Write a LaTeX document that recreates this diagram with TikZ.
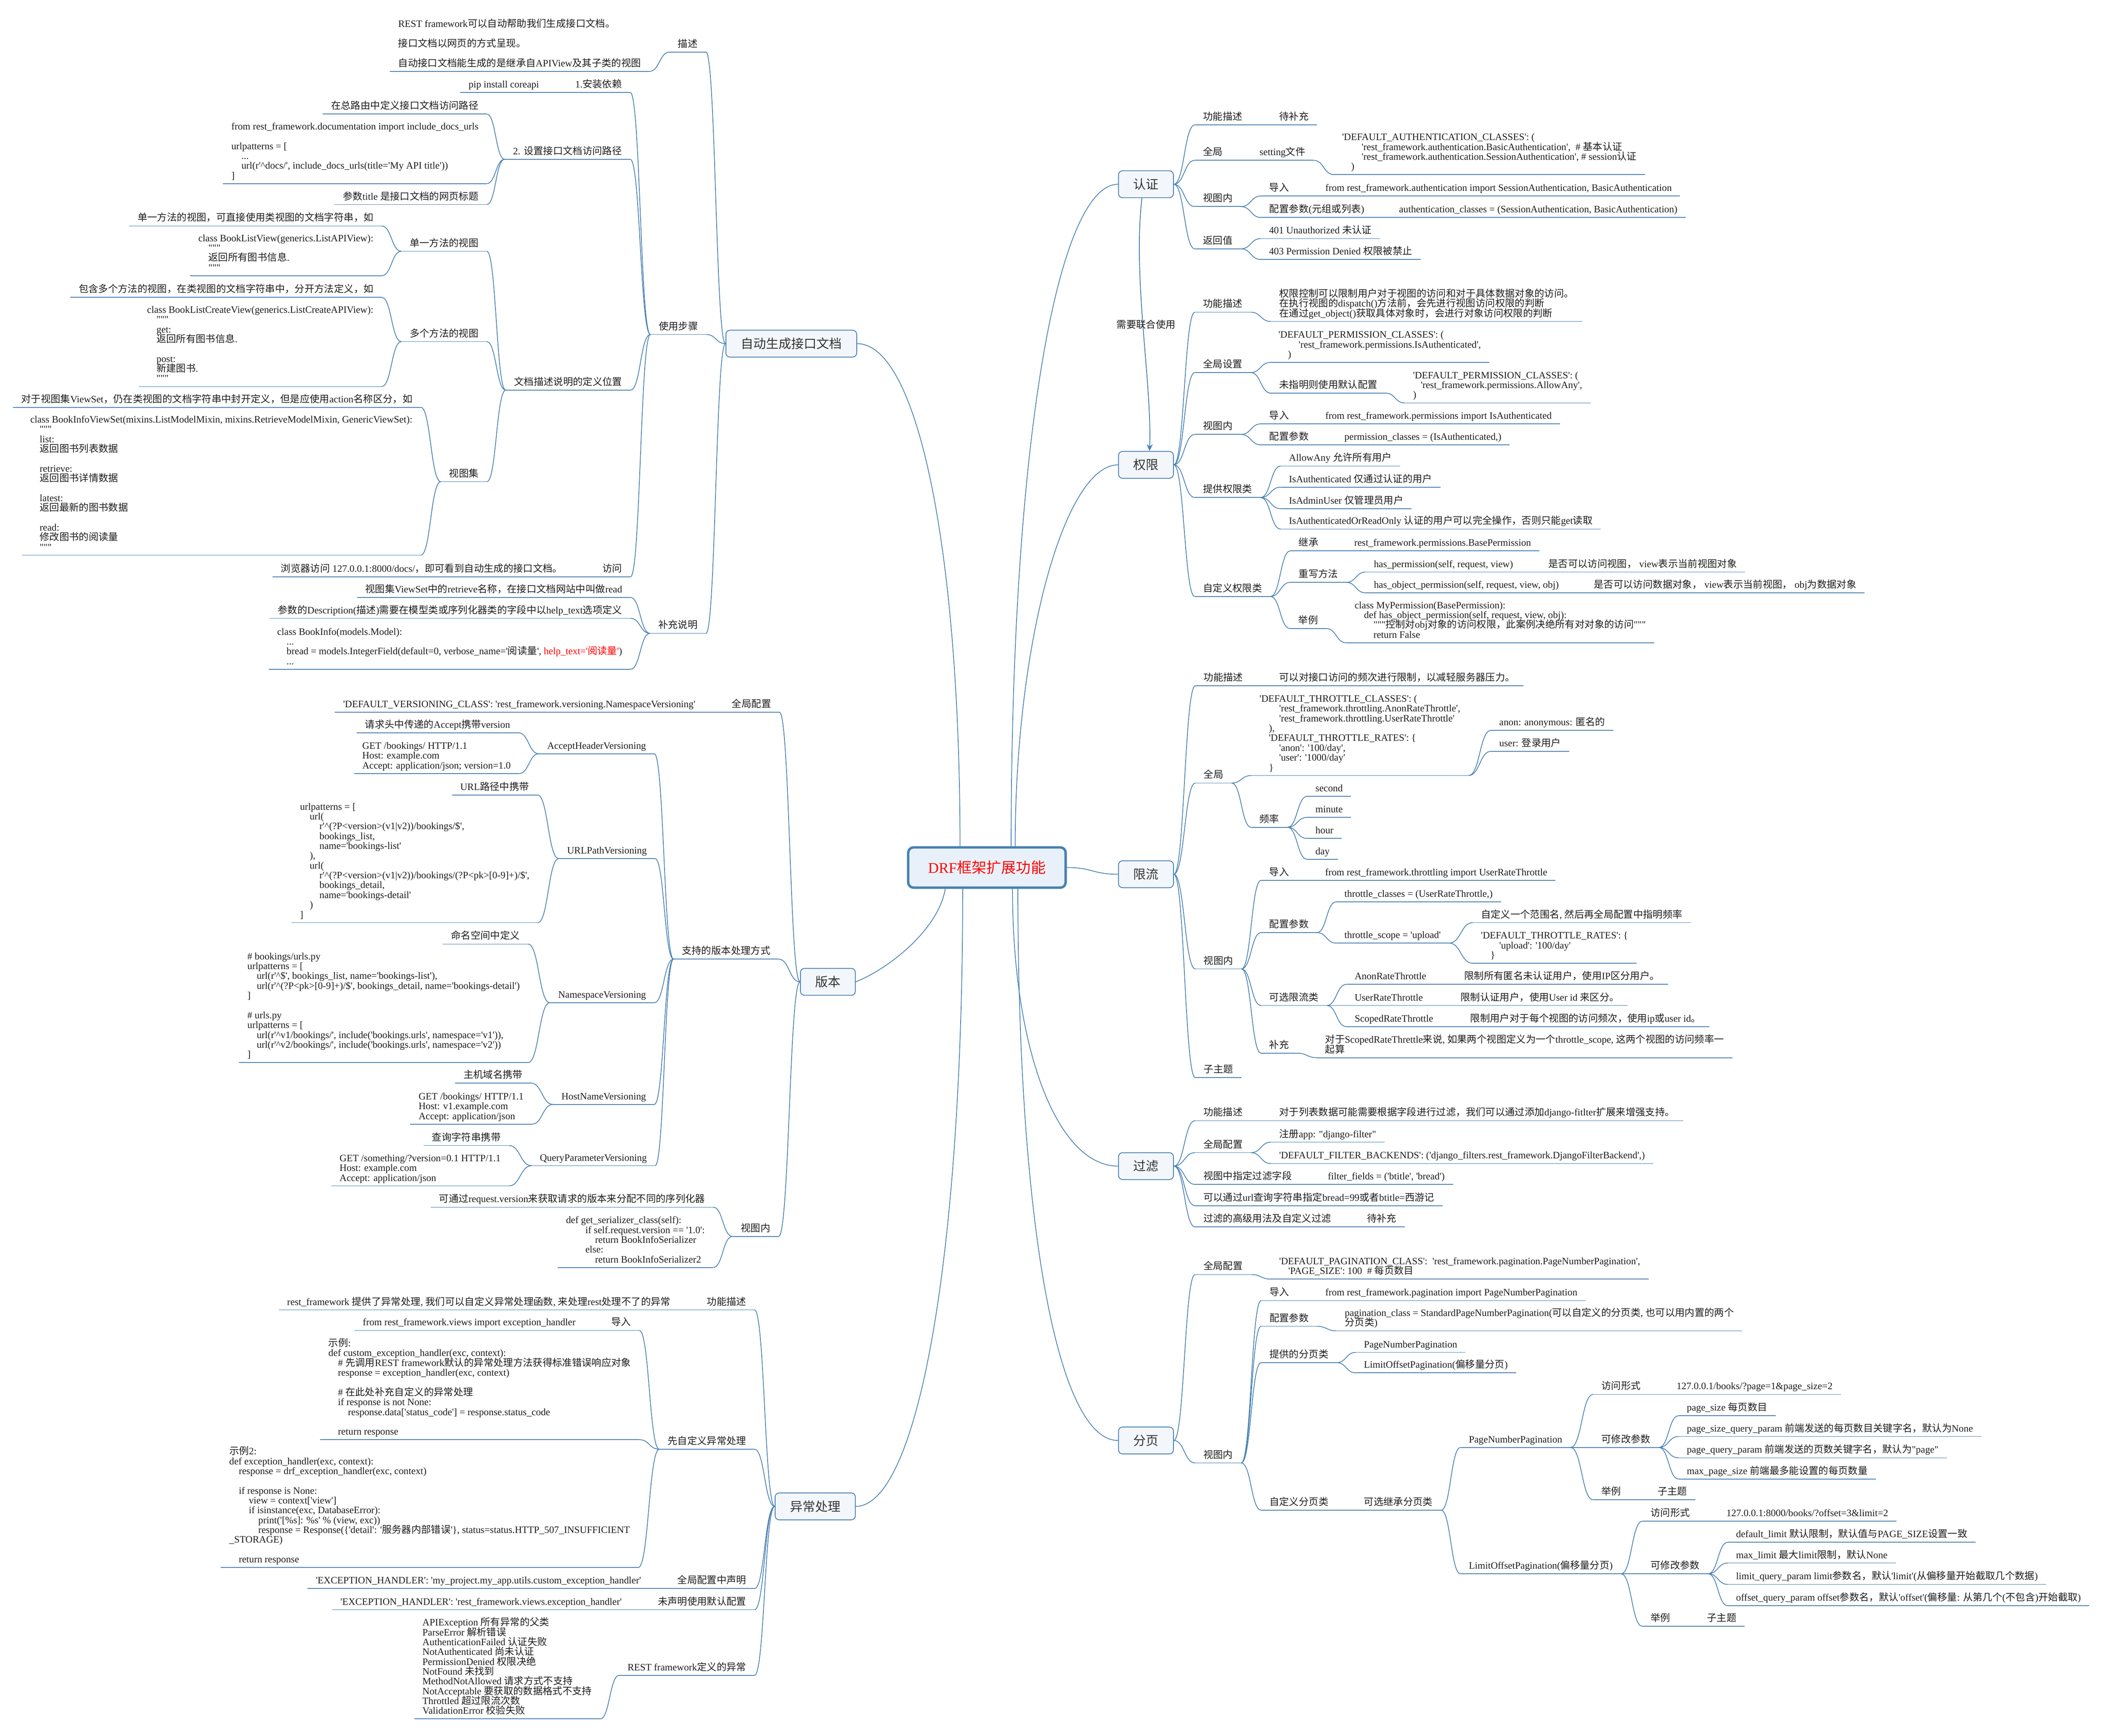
\documentclass[tikz,border=0pt]{standalone}
\usepackage{fontspec}
\setmainfont{Liberation Serif}[Ligatures=TeXOff]
\newfontfamily\cjkfont{Noto Sans CJK SC}
\usetikzlibrary{calc, arrows.meta}

% CJK characters are set in the CJK font
\XeTeXinterchartokenstate=1
\newXeTeXintercharclass\cjkclass
\count255="2E80
\loop\ifnum\count255<"A000
  \XeTeXcharclass\count255=\cjkclass
  \advance\count255 by 1
\repeat
\count255="FF00
\loop\ifnum\count255<"FFF0
  \XeTeXcharclass\count255=\cjkclass
  \advance\count255 by 1
\repeat
\XeTeXinterchartoks 0 \cjkclass={\cjkfont}
\XeTeXinterchartoks 4095 \cjkclass={\cjkfont}
\XeTeXinterchartoks \cjkclass 0={\rmfamily}
\XeTeXinterchartoks \cjkclass 4095={\rmfamily}

\definecolor{linec}{RGB}{72,128,178}
\definecolor{boxfill}{RGB}{243,247,252}
\definecolor{rootfill}{RGB}{232,241,250}
\definecolor{boxtext}{RGB}{51,51,51}
\definecolor{leafc}{RGB}{30,30,30}

\newcommand\leaffont{\fontsize{7.3}{7.3}\selectfont\lineskiplimit=-10pt\lineskip=0pt}
\newcommand\boxfont{\fontsize{9.4}{10}\selectfont}
\newcommand\rootfont{\fontsize{11}{12}\selectfont}

\begin{document}
\begin{tikzpicture}[
    x=1pt, y=-1pt,
    wire/.style={draw=linec, line width=0.55pt},
    hs/.style={to path={let \p1=(\tikztostart), \p2=(\tikztotarget) in
        .. controls ({0.5*\x1+0.5*\x2},\y1) and ({0.5*\x1+0.5*\x2},\y2) .. (\tikztotarget)}},
    lk/.style={wire, hs},
    leaf/.style={inner xsep=6pt, inner ysep=2pt, text depth=1.4pt, align=left, font=\leaffont, text=leafc,
        append after command={(\tikzlastnode.south west) edge[wire] (\tikzlastnode.south east)}},
    tp/.style={leaf, anchor=south west, xshift=-6pt},
    tpl/.style={leaf, anchor=south east, xshift=6pt},
    mbox/.style={draw=linec, line width=0.6pt, fill=boxfill, rounded corners=3pt, font=\boxfont, text=boxtext, minimum height=20pt, inner xsep=11pt},
    rootbox/.style={draw=linec, line width=1.8pt, fill=rootfill, rounded corners=4pt, font=\rootfont, text=red, minimum width=117pt, minimum height=30pt},
    joint/.style={draw=linec, line width=0.6pt, -{Stealth[length=5pt, width=4.5pt]}}]

    \fill[white] (0,0) rectangle (1563,1290.5);
    \useasboundingbox (0,0) rectangle (1563,1290.5);

    \node[rootbox] (root) at (733.5,645) {DRF框架扩展功能};

    \node[mbox, anchor=west] (auth) at (831,137) {认证};
    \node[mbox, anchor=west] (perm) at (831,345.6) {权限};
    \node[mbox, anchor=west] (thr) at (831,650) {限流};
    \node[mbox, anchor=west] (flt) at (831,867) {过滤};
    \node[mbox, anchor=west] (pag) at (831,1071) {分页};
    \node[mbox, anchor=east] (doc) at (637,255.5) {自动生成接口文档};
    \node[mbox, anchor=east] (ver) at (636,730) {版本};
    \node[mbox, anchor=east] (exc) at (636,1120) {异常处理};

    %%% main branches
    \draw[wire] ([xshift=18pt]root.north) .. controls +(0,-300) and +(-45,0) .. (auth.west);
    \draw[wire] ([xshift=21pt]root.north) .. controls +(0,-150) and +(-40,0) .. (perm.west);
    \path (root.east) edge[lk] (thr.west);
    \draw[wire] ([xshift=19pt]root.south) .. controls +(0,120) and +(-45,0) .. (flt.west);
    \draw[wire] ([xshift=23pt]root.south) .. controls +(0,250) and +(-45,0) .. (pag.west);
    \draw[wire] ([xshift=-20pt]root.north) .. controls +(0,-220) and +(45,0) .. (doc.east);
    \draw[wire] ([xshift=-31pt]root.south) .. controls +(-5,30) and +(25,-10) .. (ver.east);
    \draw[wire] ([xshift=-18pt]root.south) .. controls +(0,280) and +(45,0) .. (exc.east);

    %%% 认证
    \node[tp] (authdesc) at (894,92.9) {功能描述};
    \node[tp] (authtodo) at (950.5,92.9) {待补充};
    \node[tp] (authglob) at (894,119.2) {全局};
    \node[tp] (authset) at (935.9,119.2) {setting文件};
    \node[tp] (authsetc) at (997.3,129.8) {'DEFAULT\_AUTHENTICATION\_CLASSES': (\\\hspace*{14.5pt}'rest\_framework.authentication.BasicAuthentication',~~\# 基本认证\\\hspace*{14.5pt}'rest\_framework.authentication.SessionAuthentication',~\# session认证\\\hspace*{6.7pt})};
    \node[tp] (authview) at (894,153.6) {视图内};
    \node[tp] (authimp) at (943.2,145.7) {导入};
    \node[tp] (authimpc) at (984.8,145.7) {from rest\_framework.authentication import SessionAuthentication, BasicAuthentication};
    \node[tp] (authcfg) at (943.2,161.7) {配置参数(元组或列表)};
    \node[tp] (authcfgc) at (1039.6,161.7) {authentication\_classes = (SessionAuthentication, BasicAuthentication)};
    \node[tp] (authret) at (894,185) {返回值};
    \node[tp] (auth401) at (943,177.4) {401 Unauthorized 未认证};
    \node[tp] (auth403) at (943,192.9) {403 Permission Denied 权限被禁止};

    \path (auth.east) edge[lk] (authdesc.south west) edge[lk] (authglob.south west) edge[lk] (authview.south west) edge[lk] (authret.south west);
    \path (authdesc.south east) edge[lk] (authtodo.south west);
    \path (authglob.south east) edge[lk] (authset.south west);
    \path (authset.south east) edge[lk] (authsetc.south west);
    \path (authview.south east) edge[lk] (authimp.south west) edge[lk] (authcfg.south west);
    \path (authimp.south east) edge[lk] (authimpc.south west);
    \path (authcfg.south east) edge[lk] (authcfgc.south west);
    \path (authret.south east) edge[lk] (auth401.south west) edge[lk] (auth403.south west);

    \draw[joint] ([xshift=-3pt]auth.south) .. controls +(-7,60) and +(2,-50) .. ([xshift=2.6pt]perm.north);
    \node[font=\leaffont, text=leafc] (jointlbl) at (851.8,241.2) {需要联合使用};

    %%% 权限
    \node[tp] (permdesc) at (894,232.1) {功能描述};
    \node[tp] (permdescc) at (950.5,239) {权限控制可以限制用户对于视图的访问和对于具体数据对象的访问。\\在执行视图的dispatch()方法前，会先进行视图访问权限的判断\\在通过get\_object()获取具体对象时，会进行对象访问权限的判断};
    \node[tp] (permglob) at (894,277) {全局设置};
    \node[tp] (permglobc) at (950,269.5) {'DEFAULT\_PERMISSION\_CLASSES': (\\\hspace*{15pt}'rest\_framework.permissions.IsAuthenticated',\\\hspace*{7pt})};
    \node[tp] (permdef) at (950.5,292.3) {未指明则使用默认配置};
    \node[tp] (permdefc) at (1050,299.6) {'DEFAULT\_PERMISSION\_CLASSES': (\\\hspace*{5.7pt}'rest\_framework.permissions.AllowAny',\\)};
    \node[tp] (permview) at (894,323) {视图内};
    \node[tp] (permimp) at (943.2,315.1) {导入};
    \node[tp] (permimpc) at (984.8,315.1) {from rest\_framework.permissions import IsAuthenticated};
    \node[tp] (permcfg) at (943.2,330.8) {配置参数};
    \node[tp] (permcfgc) at (999,330.8) {permission\_classes = (IsAuthenticated,)};
    \node[tp] (permcls) at (894,369.9) {提供权限类};
    \node[tp] (permany) at (957.8,346.5) {AllowAny 允许所有用户};
    \node[tp] (permisauth) at (957.8,362.2) {IsAuthenticated 仅通过认证的用户};
    \node[tp] (permadmin) at (957.8,378.2) {IsAdminUser 仅管理员用户};
    \node[tp] (permread) at (957.8,393.4) {IsAuthenticatedOrReadOnly 认证的用户可以完全操作，否则只能get读取};
    \node[tp] (permcust) at (894,443.5) {自定义权限类};
    \node[tp] (perminh) at (965,409.6) {继承};
    \node[tp] (perminhc) at (1006.3,409.6) {rest\_framework.permissions.BasePermission};
    \node[tp] (permovr) at (965,433) {重写方法};
    \node[tp] (permhp) at (1020.9,425.3) {has\_permission(self, request, view)};
    \node[tp] (permhpc) at (1150.6,425.3) {是否可以访问视图， view表示当前视图对象};
    \node[tp] (permhop) at (1020.9,440.8) {has\_object\_permission(self, request, view, obj)};
    \node[tp] (permhopc) at (1184.4,440.8) {是否可以访问数据对象， view表示当前视图， obj为数据对象};
    \node[tp] (permex) at (964.7,467.3) {举例};
    \node[tp] (permexc) at (1006.6,477.9) {class MyPermission(BasePermission):\\\hspace*{7pt}def has\_object\_permission(self, request, view, obj):\\\hspace*{14pt}"""控制对obj对象的访问权限，此案例决绝所有对对象的访问"""\\\hspace*{14pt}return False};

    \path (perm.east) edge[lk] (permdesc.south west) edge[lk] (permglob.south west) edge[lk] (permview.south west) edge[lk] (permcls.south west) edge[lk] (permcust.south west);
    \path (permdesc.south east) edge[lk] (permdescc.south west);
    \path (permglob.south east) edge[lk] (permglobc.south west) edge[lk] (permdef.south west);
    \path (permdef.south east) edge[lk] (permdefc.south west);
    \path (permview.south east) edge[lk] (permimp.south west) edge[lk] (permcfg.south west);
    \path (permimp.south east) edge[lk] (permimpc.south west);
    \path (permcfg.south east) edge[lk] (permcfgc.south west);
    \path (permcls.south east) edge[lk] (permany.south west) edge[lk] (permisauth.south west) edge[lk] (permadmin.south west) edge[lk] (permread.south west);
    \path (permcust.south east) edge[lk] (perminh.south west) edge[lk] (permovr.south west) edge[lk] (permex.south west);
    \path (perminh.south east) edge[lk] (perminhc.south west);
    \path (permovr.south east) edge[lk] (permhp.south west) edge[lk] (permhop.south west);
    \path (permhp.south east) edge[lk] (permhpc.south west);
    \path (permhop.south east) edge[lk] (permhopc.south west);
    \path (permex.south east) edge[lk] (permexc.south west);

    %%% 限流
    \node[tp] (thrdesc) at (894.4,509.8) {功能描述};
    \node[tp] (thrdescc) at (950.5,509.8) {可以对接口访问的频次进行限制，以减轻服务器压力。};
    \node[tp] (thrglob) at (894.4,582.2) {全局};
    \node[tp] (thrglobc) at (935.9,576.6) {'DEFAULT\_THROTTLE\_CLASSES': (\\\hspace*{14.6pt}'rest\_framework.throttling.AnonRateThrottle',\\\hspace*{14.6pt}'rest\_framework.throttling.UserRateThrottle'\\\hspace*{7pt}),\\\hspace*{7pt}'DEFAULT\_THROTTLE\_RATES': \{\\\hspace*{14.6pt}'anon': '100/day',\\\hspace*{14.6pt}'user': '1000/day'\\\hspace*{7pt}\}};
    \node[tp] (thranon) at (1114.1,543) {anon: anonymous: 匿名的};
    \node[tp] (thruser) at (1114.1,558.6) {user: 登录用户};
    \node[tp] (thrfreq) at (935.9,615.1) {频率};
    \node[tp] (thrsec) at (977.5,592) {second};
    \node[tp] (thrmin) at (977.5,607.7) {minute};
    \node[tp] (thrhour) at (977.5,623.4) {hour};
    \node[tp] (thrday) at (977.5,638.9) {day};
    \node[tp] (thrview) at (894.4,720.4) {视图内};
    \node[tp] (thrimp) at (943.2,654.6) {导入};
    \node[tp] (thrimpc) at (984.7,654.6) {from rest\_framework.throttling import UserRateThrottle};
    \node[tp] (thrcfg) at (943.2,693.4) {配置参数};
    \node[tp] (thrcls) at (999,670.5) {throttle\_classes = (UserRateThrottle,)};
    \node[tp] (thrscope) at (999,701.2) {throttle\_scope = 'upload'};
    \node[tp] (thrscopea) at (1100.5,686) {自定义一个范围名, 然后再全局配置中指明频率};
    \node[tp] (thrscopeb) at (1100.5,716.2) {'DEFAULT\_THROTTLE\_RATES': \{\\\hspace*{13.6pt}'upload': '100/day'\\\hspace*{7pt}\}};
    \node[tp] (thropt) at (943.2,747.6) {可选限流类};
    \node[tp] (thranonr) at (1006.6,731.9) {AnonRateThrottle};
    \node[tp] (thranonrc) at (1088.1,731.9) {限制所有匿名未认证用户，使用IP区分用户。};
    \node[tp] (thruserr) at (1006.6,747.6) {UserRateThrottle};
    \node[tp] (thruserrc) at (1085.3,747.6) {限制认证用户，使用User id 来区分。};
    \node[tp] (thrscoped) at (1006.6,763.3) {ScopedRateThrottle};
    \node[tp] (thrscopedc) at (1092.6,763.3) {限制用户对于每个视图的访问频次，使用ip或user id。};
    \node[tp] (thrsup) at (943.2,783) {补充};
    \node[tp] (thrsupc) at (984.7,786.4) {对于ScopedRateThrettle来说, 如果两个视图定义为一个throttle\_scope, 这两个视图的访问频率一\\起算};
    \node[tp] (thrsub) at (894.4,801.3) {子主题};

    \path (thr.east) edge[lk] (thrdesc.south west) edge[lk] (thrglob.south west) edge[lk] (thrview.south west) edge[lk] (thrsub.south west);
    \path (thrdesc.south east) edge[lk] (thrdescc.south west);
    \path (thrglob.south east) edge[lk] (thrglobc.south west) edge[lk] (thrfreq.south west);
    \path (thrglobc.south east) edge[lk] (thranon.south west) edge[lk] (thruser.south west);
    \path (thrfreq.south east) edge[lk] (thrsec.south west) edge[lk] (thrmin.south west) edge[lk] (thrhour.south west) edge[lk] (thrday.south west);
    \path (thrview.south east) edge[lk] (thrimp.south west) edge[lk] (thrcfg.south west) edge[lk] (thropt.south west) edge[lk] (thrsup.south west);
    \path (thrimp.south east) edge[lk] (thrimpc.south west);
    \path (thrcfg.south east) edge[lk] (thrcls.south west) edge[lk] (thrscope.south west);
    \path (thrscope.south east) edge[lk] (thrscopea.south west) edge[lk] (thrscopeb.south west);
    \path (thropt.south east) edge[lk] (thranonr.south west) edge[lk] (thruserr.south west) edge[lk] (thrscoped.south west);
    \path (thranonr.south east) edge[lk] (thranonrc.south west);
    \path (thruserr.south east) edge[lk] (thruserrc.south west);
    \path (thrscoped.south east) edge[lk] (thrscopedc.south west);
    \path (thrsup.south east) edge[lk] (thrsupc.south west);

    %%% 过滤
    \node[tp] (fltdesc) at (894.2,833.2) {功能描述};
    \node[tp] (fltdescc) at (950.5,833.2) {对于列表数据可能需要根据字段进行过滤，我们可以通过添加django-fitlter扩展来增强支持。};
    \node[tp] (fltglob) at (894.2,857) {全局配置};
    \node[tp] (fltapp) at (950.5,849.2) {注册app: "django-filter"};
    \node[tp] (fltback) at (950.5,865.1) {'DEFAULT\_FILTER\_BACKENDS': ('django\_filters.rest\_framework.DjangoFilterBackend',)};
    \node[tp] (fltview) at (894.2,880.6) {视图中指定过滤字段};
    \node[tp] (fltviewc) at (986.7,880.6) {filter\_fields = ('btitle', 'bread')};
    \node[tp] (flturl) at (894.2,896.5) {可以通过url查询字符串指定bread=99或者btitle=西游记};
    \node[tp] (fltadv) at (894.2,912.2) {过滤的高级用法及自定义过滤};
    \node[tp] (fltadvc) at (1015.8,912.2) {待补充};

    \path (flt.east) edge[lk] (fltdesc.south west) edge[lk] (fltglob.south west) edge[lk] (fltview.south west) edge[lk] (flturl.south west) edge[lk] (fltadv.south west);
    \path (fltdesc.south east) edge[lk] (fltdescc.south west);
    \path (fltglob.south east) edge[lk] (fltapp.south west) edge[lk] (fltback.south west);
    \path (fltview.south east) edge[lk] (fltviewc.south west);
    \path (fltadv.south east) edge[lk] (fltadvc.south west);

    %%% 分页
    \node[tp] (pagglob) at (894.2,947.6) {全局配置};
    \node[tp] (pagglobc) at (950.5,951) {'DEFAULT\_PAGINATION\_CLASS':~~'rest\_framework.pagination.PageNumberPagination',\\\hspace*{6.8pt}'PAGE\_SIZE': 100~~\# 每页数目};
    \node[tp] (pagview) at (894.2,1087.7) {视图内};
    \node[tp] (pagimp) at (943.3,967) {导入};
    \node[tp] (pagimpc) at (984.8,967) {from rest\_framework.pagination import PageNumberPagination};
    \node[tp] (pagcfg) at (943.3,986.1) {配置参数};
    \node[tp] (pagcfgc) at (999.3,989.5) {pagination\_class = StandardPageNumberPagination(可以自定义的分页类, 也可以用内置的两个\\分页类)};
    \node[tp] (pagprov) at (943.3,1013.1) {提供的分页类};
    \node[tp] (pagpn) at (1013.5,1005.5) {PageNumberPagination};
    \node[tp] (paglo) at (1013.5,1020.7) {LimitOffsetPagination(偏移量分页)};
    \node[tp] (pagcust) at (943.3,1122.8) {自定义分页类};
    \node[tp] (paginh) at (1013.5,1122.8) {可选继承分页类};
    \node[tp] (pagpnp) at (1091.5,1076.2) {PageNumberPagination};
    \node[tp] (pagpnacc) at (1190,1036.7) {访问形式};
    \node[tp] (pagpnaccc) at (1245.9,1036.7) {127.0.0.1/books/?page=1\&page\_size=2};
    \node[tp] (pagpnmod) at (1190,1076.2) {可修改参数};
    \node[tp] (pagpnsize) at (1253.5,1052.6) {page\_size 每页数目};
    \node[tp] (pagpnsq) at (1253.5,1068) {page\_size\_query\_param 前端发送的每页数目关键字名，默认为None};
    \node[tp] (pagpnpq) at (1253.5,1083.9) {page\_query\_param 前端发送的页数关键字名，默认为"page"};
    \node[tp] (pagpnmax) at (1253.5,1099.6) {max\_page\_size 前端最多能设置的每页数量};
    \node[tp] (pagpnex) at (1190,1115.1) {举例};
    \node[tp] (pagpnexc) at (1231.8,1115.1) {子主题};
    \node[tp] (paglop) at (1091.5,1170.1) {LimitOffsetPagination(偏移量分页)};
    \node[tp] (paglacc) at (1226.6,1131) {访问形式};
    \node[tp] (paglaccc) at (1282.9,1131) {127.0.0.1:8000/books/?offset=3\&limit=2};
    \node[tp] (paglmod) at (1226.6,1170.1) {可修改参数};
    \node[tp] (pagldef) at (1290.1,1146.7) {default\_limit 默认限制，默认值与PAGE\_SIZE设置一致};
    \node[tp] (paglmax) at (1290.1,1162.1) {max\_limit 最大limit限制，默认None};
    \node[tp] (paglq) at (1290.1,1178) {limit\_query\_param limit参数名，默认'limit'(从偏移量开始截取几个数据)};
    \node[tp] (paglo2) at (1290.1,1193.9) {offset\_query\_param offset参数名，默认'offset'(偏移量: 从第几个(不包含)开始截取)};
    \node[tp] (paglex) at (1226.6,1209.1) {举例};
    \node[tp] (paglexc) at (1268.5,1209.1) {子主题};

    \path (pag.east) edge[lk] (pagglob.south west) edge[lk] (pagview.south west);
    \path (pagglob.south east) edge[lk] (pagglobc.south west);
    \path (pagview.south east) edge[lk] (pagimp.south west) edge[lk] (pagcfg.south west) edge[lk] (pagprov.south west) edge[lk] (pagcust.south west);
    \path (pagimp.south east) edge[lk] (pagimpc.south west);
    \path (pagcfg.south east) edge[lk] (pagcfgc.south west);
    \path (pagprov.south east) edge[lk] (pagpn.south west) edge[lk] (paglo.south west);
    \path (pagcust.south east) edge[lk] (paginh.south west);
    \path (paginh.south east) edge[lk] (pagpnp.south west) edge[lk] (paglop.south west);
    \path (pagpnp.south east) edge[lk] (pagpnacc.south west) edge[lk] (pagpnmod.south west) edge[lk] (pagpnex.south west);
    \path (pagpnacc.south east) edge[lk] (pagpnaccc.south west);
    \path (pagpnmod.south east) edge[lk] (pagpnsize.south west) edge[lk] (pagpnsq.south west) edge[lk] (pagpnpq.south west) edge[lk] (pagpnmax.south west);
    \path (pagpnex.south east) edge[lk] (pagpnexc.south west);
    \path (paglop.south east) edge[lk] (paglacc.south west) edge[lk] (paglmod.south west) edge[lk] (paglex.south west);
    \path (paglacc.south east) edge[lk] (paglaccc.south west);
    \path (paglmod.south east) edge[lk] (pagldef.south west) edge[lk] (paglmax.south west) edge[lk] (paglq.south west) edge[lk] (paglo2.south west);
    \path (paglex.south east) edge[lk] (paglexc.south west);

    %%% 自动生成接口文档
    \node[tpl] (docdesc) at (518.7,38.7) {描述};
    \node[tpl] (docdescc) at (476.6,53.1) {REST framework可以自动帮助我们生成接口文档。\\[7.3pt]接口文档以网页的方式呈现。\\[7.3pt]自动接口文档能生成的是继承自APIView及其子类的视图};
    \node[tpl] (docstep) at (519,248.7) {使用步骤};
    \node[tpl] (docinst) at (462.4,68.7) {1.安装依赖};
    \node[tpl] (docpip) at (400.8,68.7) {pip install coreapi};
    \node[tpl] (docpath) at (462.4,118.4) {2. 设置接口文档访问路径};
    \node[tpl] (docpatha) at (355.8,84.8) {在总路由中定义接口文档访问路径};
    \node[tpl] (docpathb) at (355.8,136.5) {from rest\_framework.documentation import include\_docs\_urls\\[7.3pt]urlpatterns = [\\\hspace*{7.5pt}...\\\hspace*{7.5pt}url(r'\textasciicircum docs/', include\_docs\_urls(title='My API title'))\\]};
    \node[tpl] (docpathc) at (355.8,152.1) {参数title 是接口文档的网页标题};
    \node[tpl] (docpos) at (462.6,290.1) {文档描述说明的定义位置};
    \node[tpl] (docone) at (355.8,186.8) {单一方法的视图};
    \node[tpl] (doconea) at (277.7,168) {单一方法的视图，可直接使用类视图的文档字符串，如};
    \node[tpl] (doconeb) at (277.7,205) {class BookListView(generics.ListAPIView):\\\hspace*{7.5pt}"""\\\hspace*{7.5pt}返回所有图书信息.\\\hspace*{7.5pt}"""};
    \node[tpl] (docmulti) at (355.8,254) {多个方法的视图};
    \node[tpl] (docmultia) at (277.7,221.1) {包含多个方法的视图，在类视图的文档字符串中，分开方法定义，如};
    \node[tpl] (docmultib) at (277.7,287.4) {class BookListCreateView(generics.ListCreateAPIView):\\\hspace*{7pt}"""\\\hspace*{7pt}get:\\\hspace*{7pt}返回所有图书信息.\\[7.3pt]\hspace*{7pt}post:\\\hspace*{7pt}新建图书.\\\hspace*{7pt}"""};
    \node[tpl] (docset) at (355.9,358.1) {视图集};
    \node[tpl] (docseta) at (306.7,302.8) {对于视图集ViewSet，仍在类视图的文档字符串中封开定义，但是应使用action名称区分，如};
    \node[tpl] (docsetb) at (306.7,412.8) {class BookInfoViewSet(mixins.ListModelMixin, mixins.RetrieveModelMixin, GenericViewSet):\\\hspace*{7pt}"""\\\hspace*{7pt}list:\\\hspace*{7pt}返回图书列表数据\\[7.3pt]\hspace*{7pt}retrieve:\\\hspace*{7pt}返回图书详情数据\\[7.3pt]\hspace*{7pt}latest:\\\hspace*{7pt}返回最新的图书数据\\[7.3pt]\hspace*{7pt}read:\\\hspace*{7pt}修改图书的阅读量\\\hspace*{7pt}"""};
    \node[tpl] (docvisit) at (462.6,428.9) {访问};
    \node[tpl] (docvisitc) at (418.2,428.9) {浏览器访问 127.0.0.1:8000/docs/，即可看到自动生成的接口文档。};
    \node[tpl] (docsup) at (518.7,470.9) {补充说明};
    \node[tpl] (docsupa) at (462.6,444.2) {视图集ViewSet中的retrieve名称，在接口文档网站中叫做read};
    \node[tpl] (docsupb) at (462.6,459.7) {参数的Description(描述)需要在模型类或序列化器类的字段中以help\_text选项定义};
    \node[tpl] (docsupc) at (462.6,497.6) {class BookInfo(models.Model):\\\hspace*{7pt}...\\\hspace*{7pt}bread = models.IntegerField(default=0, verbose\_name='阅读量', \textcolor{red}{help\_text='阅读量'})\\\hspace*{7pt}...};

    \path (doc.west) edge[lk] (docdesc.south east) edge[lk] (docstep.south east) edge[lk] (docsup.south east);
    \path (docdesc.south west) edge[lk] (docdescc.south east);
    \path (docstep.south west) edge[lk] (docinst.south east) edge[lk] (docpath.south east) edge[lk] (docpos.south east) edge[lk] (docvisit.south east);
    \path (docinst.south west) edge[lk] (docpip.south east);
    \path (docpath.south west) edge[lk] (docpatha.south east) edge[lk] (docpathb.south east) edge[lk] (docpathc.south east);
    \path (docpos.south west) edge[lk] (docone.south east) edge[lk] (docmulti.south east) edge[lk] (docset.south east);
    \path (docone.south west) edge[lk] (doconea.south east) edge[lk] (doconeb.south east);
    \path (docmulti.south west) edge[lk] (docmultia.south east) edge[lk] (docmultib.south east);
    \path (docset.south west) edge[lk] (docseta.south east) edge[lk] (docsetb.south east);
    \path (docvisit.south west) edge[lk] (docvisitc.south east);
    \path (docsup.south west) edge[lk] (docsupa.south east) edge[lk] (docsupb.south east) edge[lk] (docsupc.south east);

    %%% 版本
    \node[tpl] (verglob) at (573.3,529.5) {全局配置};
    \node[tpl] (verglobc) at (517,529.5) {'DEFAULT\_VERSIONING\_CLASS': 'rest\_framework.versioning.NamespaceVersioning'};
    \node[tpl] (verways) at (572.7,713.1) {支持的版本处理方式};
    \node[tpl] (verah) at (480.3,560.4) {AcceptHeaderVersioning};
    \node[tpl] (verahn) at (379.3,544.8) {请求头中传递的Accept携带version};
    \node[tpl] (verahc) at (379.8,575.1) {GET /bookings/ HTTP/1.1\\Host: example.com\\Accept: application/json; version=1.0};
    \node[tpl] (verup) at (480.9,638.4) {URLPathVersioning};
    \node[tpl] (verupn) at (393.4,591) {URL路径中携带};
    \node[tpl] (verupc) at (393.7,686) {urlpatterns = [\\\hspace*{7.2pt}url(\\\hspace*{14.5pt}r'\textasciicircum(?P<version>(v1|v2))/bookings/\$',\\\hspace*{14.5pt}bookings\_list,\\\hspace*{14.5pt}name='bookings-list'\\\hspace*{7.2pt}),\\\hspace*{7.2pt}url(\\\hspace*{14.5pt}r'\textasciicircum(?P<version>(v1|v2))/bookings/(?P<pk>[0-9]+)/\$',\\\hspace*{14.5pt}bookings\_detail,\\\hspace*{14.5pt}name='bookings-detail'\\\hspace*{7.2pt})\\]};
    \node[tpl] (verns) at (480.3,745.5) {NamespaceVersioning};
    \node[tpl] (vernsn) at (386.5,701.9) {命名空间中定义};
    \node[tpl] (vernsc) at (386.5,790) {\# bookings/urls.py\\urlpatterns = [\\\hspace*{7pt}url(r'\textasciicircum\$', bookings\_list, name='bookings-list'),\\\hspace*{7pt}url(r'\textasciicircum(?P<pk>[0-9]+)/\$', bookings\_detail, name='bookings-detail')\\]\\[7.3pt]\# urls.py\\urlpatterns = [\\\hspace*{7pt}url(r'\textasciicircum v1/bookings/', include('bookings.urls', namespace='v1')),\\\hspace*{7pt}url(r'\textasciicircum v2/bookings/', include('bookings.urls', namespace='v2'))\\]};
    \node[tpl] (verhn) at (480.3,821.1) {HostNameVersioning};
    \node[tpl] (verhnn) at (388.5,805.2) {主机域名携带};
    \node[tpl] (verhnc) at (389.4,835.8) {GET /bookings/ HTTP/1.1\\Host: v1.example.com\\Accept: application/json};
    \node[tpl] (verqp) at (480.9,866.7) {QueryParameterVersioning};
    \node[tpl] (verqpn) at (372.3,851.7) {查询字符串携带};
    \node[tpl] (verqpc) at (372.3,881.7) {GET /something/?version=0.1 HTTP/1.1\\Host: example.com\\Accept: application/json};
    \node[tpl] (verview) at (572.7,919.3) {视图内};
    \node[tpl] (verviewn) at (524.2,897.6) {可通过request.version来获取请求的版本来分配不同的序列化器};
    \node[tpl] (verviewc) at (524,942.4) {def get\_serializer\_class(self):\\\hspace*{14.4pt}if self.request.version == '1.0':\\\hspace*{21.6pt}return BookInfoSerializer\\\hspace*{14.4pt}else:\\\hspace*{21.6pt}return BookInfoSerializer2};

    \path (ver.west) edge[lk] (verglob.south east) edge[lk] (verways.south east) edge[lk] (verview.south east);
    \path (verglob.south west) edge[lk] (verglobc.south east);
    \path (verways.south west) edge[lk] (verah.south east) edge[lk] (verup.south east) edge[lk] (verns.south east) edge[lk] (verhn.south east) edge[lk] (verqp.south east);
    \path (verah.south west) edge[lk] (verahn.south east) edge[lk] (verahc.south east);
    \path (verup.south west) edge[lk] (verupn.south east) edge[lk] (verupc.south east);
    \path (verns.south west) edge[lk] (vernsn.south east) edge[lk] (vernsc.south east);
    \path (verhn.south west) edge[lk] (verhnn.south east) edge[lk] (verhnc.south east);
    \path (verqp.south west) edge[lk] (verqpn.south east) edge[lk] (verqpc.south east);
    \path (verview.south west) edge[lk] (verviewn.south east) edge[lk] (verviewc.south east);

    %%% 异常处理
    \node[tpl] (excdesc) at (554.8,973.9) {功能描述};
    \node[tpl] (excdescc) at (498.5,973.9) {rest\_framework 提供了异常处理, 我们可以自定义异常处理函数, 来处理rest处理不了的异常};
    \node[tpl] (exccust) at (554.8,1077.5) {先自定义异常处理};
    \node[tpl] (excimp) at (469.2,989.2) {导入};
    \node[tpl] (excimpc) at (428,989.2) {from rest\_framework.views import exception\_handler};
    \node[tpl] (excone) at (469.2,1070.4) {示例:\\def custom\_exception\_handler(exc, context):\\\hspace*{7.1pt}\# 先调用REST framework默认的异常处理方法获得标准错误响应对象\\\hspace*{7.1pt}response = exception\_handler(exc, context)\\[7.3pt]\hspace*{7.1pt}\# 在此处补充自定义的异常处理\\\hspace*{7.1pt}if response is not None:\\\hspace*{14.5pt}response.data['status\_code'] = response.status\_code\\[7.3pt]\hspace*{7.1pt}return response};
    \node[tpl] (exctwo) at (468.4,1165.4) {示例2:\\def exception\_handler(exc, context):\\\hspace*{7.1pt}response = drf\_exception\_handler(exc, context)\\[7.3pt]\hspace*{7.1pt}if response is None:\\\hspace*{14.5pt}view = context['view']\\\hspace*{14.5pt}if isinstance(exc, DatabaseError):\\\hspace*{21.6pt}print('[\%s]: \%s' \% (view, exc))\\\hspace*{21.6pt}response = Response(\{'detail': '服务器内部错误'\}, status=status.HTTP\_507\_INSUFFICIENT\\\_STORAGE)\\[7.3pt]\hspace*{7.1pt}return response};
    \node[tpl] (excglob) at (554.8,1181.1) {全局配置中声明};
    \node[tpl] (excglobc) at (476.6,1181.1) {'EXCEPTION\_HANDLER': 'my\_project.my\_app.utils.custom\_exception\_handler'};
    \node[tpl] (excdef) at (554.8,1196.8) {未声明使用默认配置};
    \node[tpl] (excdefc) at (462.3,1196.8) {'EXCEPTION\_HANDLER': 'rest\_framework.views.exception\_handler'};
    \node[tpl] (excrest) at (554.8,1245.6) {REST framework定义的异常};
    \node[tpl] (excrestc) at (440.1,1278) {APIException 所有异常的父类\\ParseError 解析错误\\AuthenticationFailed 认证失败\\NotAuthenticated 尚未认证\\PermissionDenied 权限决绝\\NotFound 未找到\\MethodNotAllowed 请求方式不支持\\NotAcceptable 要获取的数据格式不支持\\Throttled 超过限流次数\\ValidationError 校验失败};

    \path (exc.west) edge[lk] (excdesc.south east) edge[lk] (exccust.south east) edge[lk] (excglob.south east) edge[lk] (excdef.south east) edge[lk] (excrest.south east);
    \path (excdesc.south west) edge[lk] (excdescc.south east);
    \path (exccust.south west) edge[lk] (excimp.south east) edge[lk] (excone.south east) edge[lk] (exctwo.south east);
    \path (excimp.south west) edge[lk] (excimpc.south east);
    \path (excglob.south west) edge[lk] (excglobc.south east);
    \path (excdef.south west) edge[lk] (excdefc.south east);
    \path (excrest.south west) edge[lk] (excrestc.south east);

\end{tikzpicture}
\end{document}
